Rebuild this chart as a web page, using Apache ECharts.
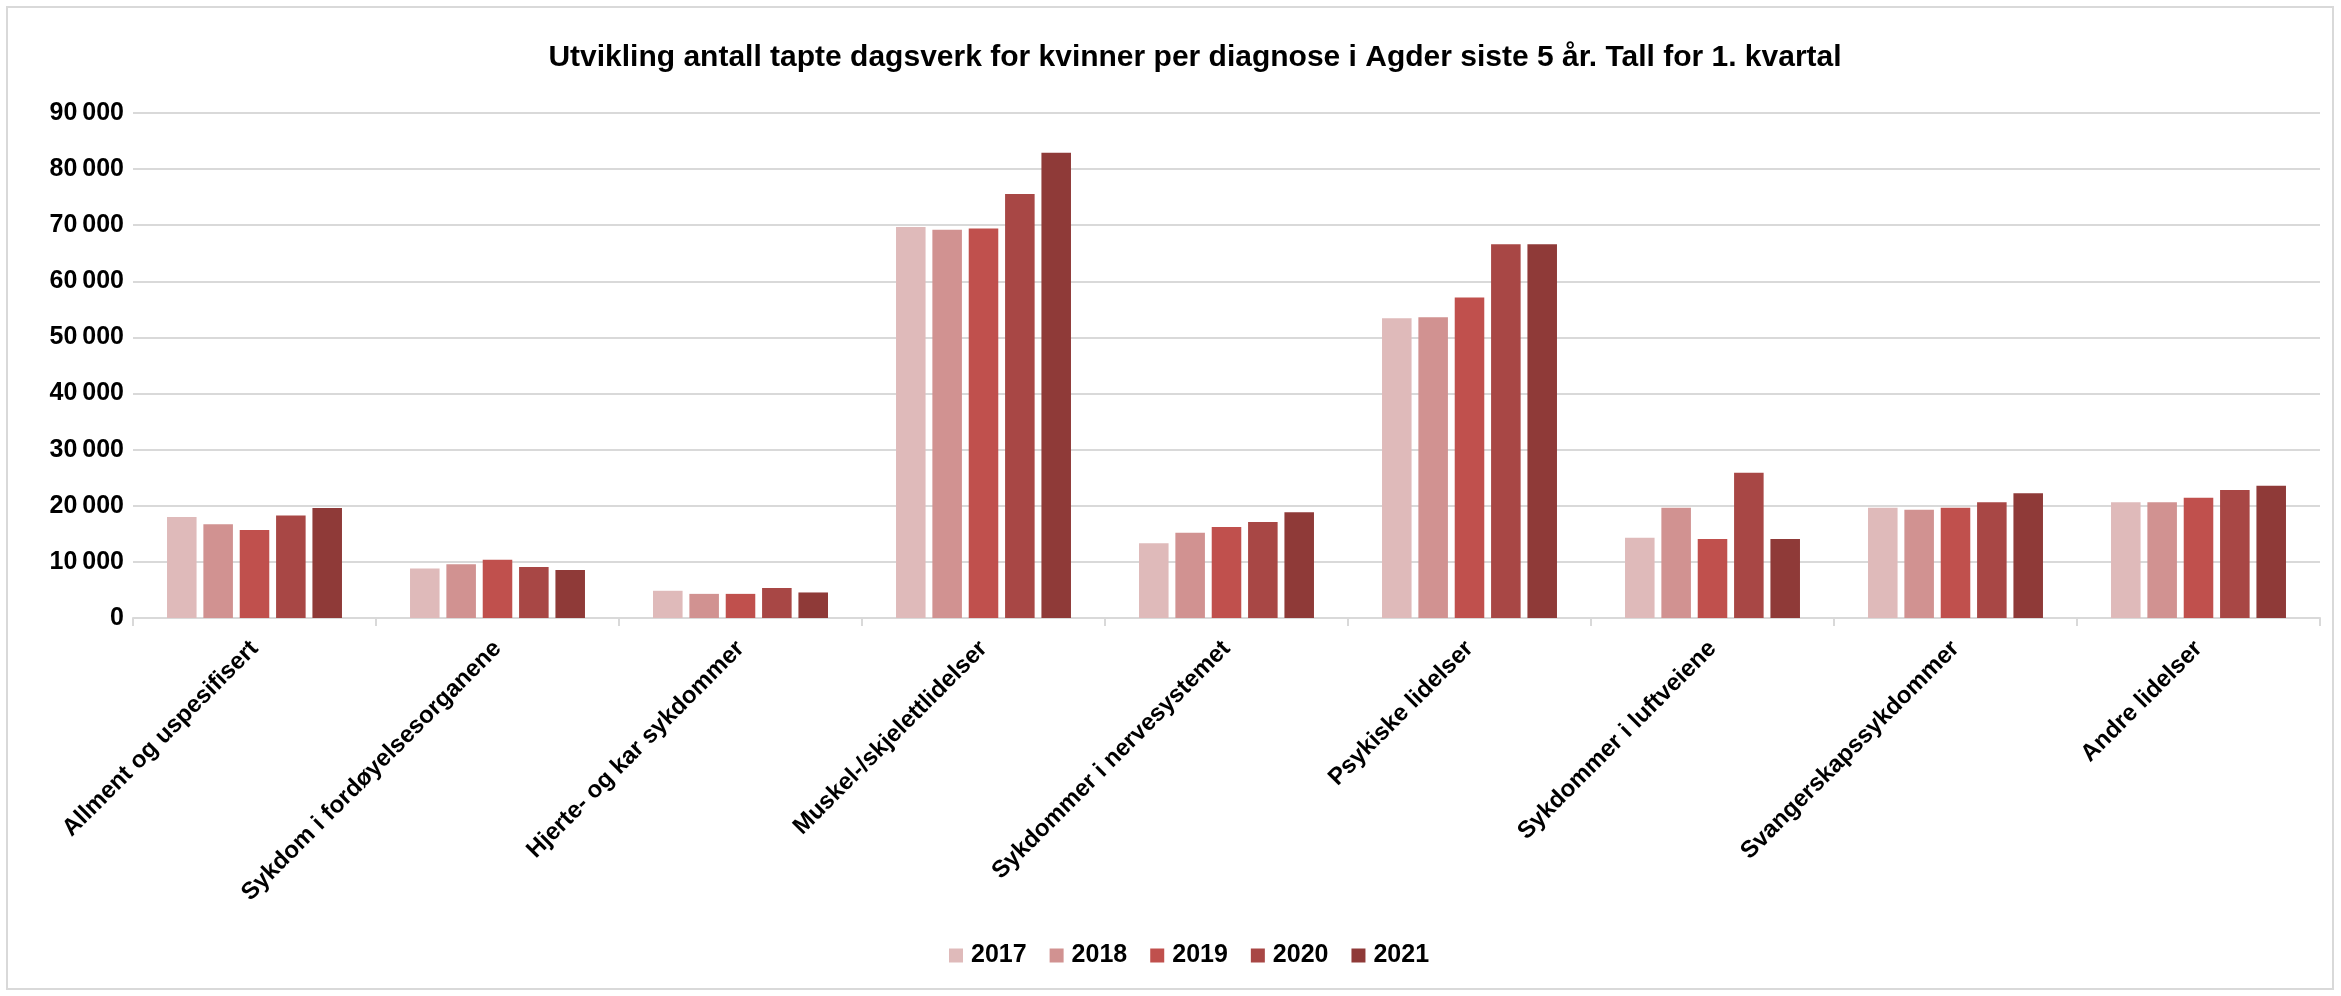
<!DOCTYPE html>
<html>
<head>
<meta charset="utf-8">
<script src="https://cdn.jsdelivr.net/npm/echarts@6/dist/echarts.min.js"></script>
<style>
  html, body { margin: 0; padding: 0; background: #fff; }
  #chart { width: 2341px; height: 996px; }
</style>
</head>
<body>
<div id="chart"></div>
<script>
// kategorier og verdier (1. kvartal)
var categories = ['Allment og uspesifisert', 'Sykdom i fordøyelsesorganene', 'Hjerte- og kar sykdommer',
    'Muskel-/skjelettlidelser', 'Sykdommer i nervesystemet', 'Psykiske lidelser',
    'Sykdommer i luftveiene', 'Svangerskapssykdommer', 'Andre lidelser'];
var years = ['2017', '2018', '2019', '2020', '2021'];
var v2017 = [18000, 8800, 4850, 69700, 13300, 53400, 14300, 19650, 20650];
var v2018 = [16700, 9600, 4300, 69200, 15200, 53600, 19650, 19300, 20650];
var v2019 = [15700, 10400, 4300, 69400, 16200, 57100, 14100, 19650, 21450];
var v2020 = [18250, 9100, 5350, 75550, 17100, 66600, 25900, 20650, 22800];
var v2021 = [19600, 8550, 4550, 82900, 18850, 66600, 14100, 22250, 23550];
var yTicks = [0, 10000, 20000, 30000, 40000, 50000, 60000, 70000, 80000, 90000];

var colors = ['#dfbaba', '#d19291', '#c0504d', '#a84745', '#8f3a38'];
var values = [v2017, v2018, v2019, v2020, v2021];

var myChart = echarts.init(document.getElementById('chart'));

var fmt = function (v) {
    var s = String(v);
    if (s.length > 3) {
        s = s.slice(0, s.length - 3) + '\u2009' + s.slice(s.length - 3);
    }
    return s;
};

var option = {
    animation: false,
    color: colors,
    textStyle: { fontFamily: 'Liberation Sans, Arial, sans-serif' },
    title: {
        text: 'Utvikling antall tapte dagsverk for kvinner per diagnose i Agder siste 5 år. Tall for 1. kvartal',
        left: 1190,
        top: 38,
        textAlign: 'center',
        textStyle: { fontSize: 30, fontWeight: 'bold', color: '#000' }
    },
    graphic: [{
        type: 'rect',
        shape: { x: 7, y: 7, width: 2326, height: 982 },
        style: { fill: 'none', stroke: '#d9d9d9', lineWidth: 2 },
        silent: true
    }],
    legend: {
        data: years,
        left: 944,
        top: 938,
        itemWidth: 14,
        itemHeight: 14,
        itemGap: 23,
        icon: 'rect',
        textStyle: { fontSize: 25, fontWeight: 'bold', color: '#000', padding: [0, 0, 0, 3] }
    },
    grid: {
        left: 133,
        right: 21,
        top: 113,
        bottom: 378,
        containLabel: false
    },
    xAxis: {
        type: 'category',
        data: categories,
        axisLine: { lineStyle: { color: '#d9d9d9', width: 2 } },
        axisTick: { show: true, length: 8, lineStyle: { color: '#d9d9d9', width: 2 } },
        axisLabel: {
            rotate: 45,
            interval: 0,
            margin: 27,
            fontSize: 24,
            fontWeight: 'bold',
            color: '#000'
        }
    },
    yAxis: {
        type: 'value',
        min: yTicks[0],
        max: yTicks[yTicks.length - 1],
        interval: 10000,
        axisLine: { show: false },
        axisTick: { show: false },
        splitLine: { lineStyle: { color: '#d9d9d9', width: 2 } },
        axisLabel: {
            fontSize: 25,
            fontWeight: 'bold',
            color: '#000',
            margin: 9,
            formatter: fmt
        }
    },
    series: years.map(function (y, i) {
        return {
            name: y,
            type: 'bar',
            data: values[i],
            barGap: '23%',
            barCategoryGap: '28%',
            itemStyle: { color: colors[i] }
        };
    })
};

myChart.setOption(option);
</script>
</body>
</html>
